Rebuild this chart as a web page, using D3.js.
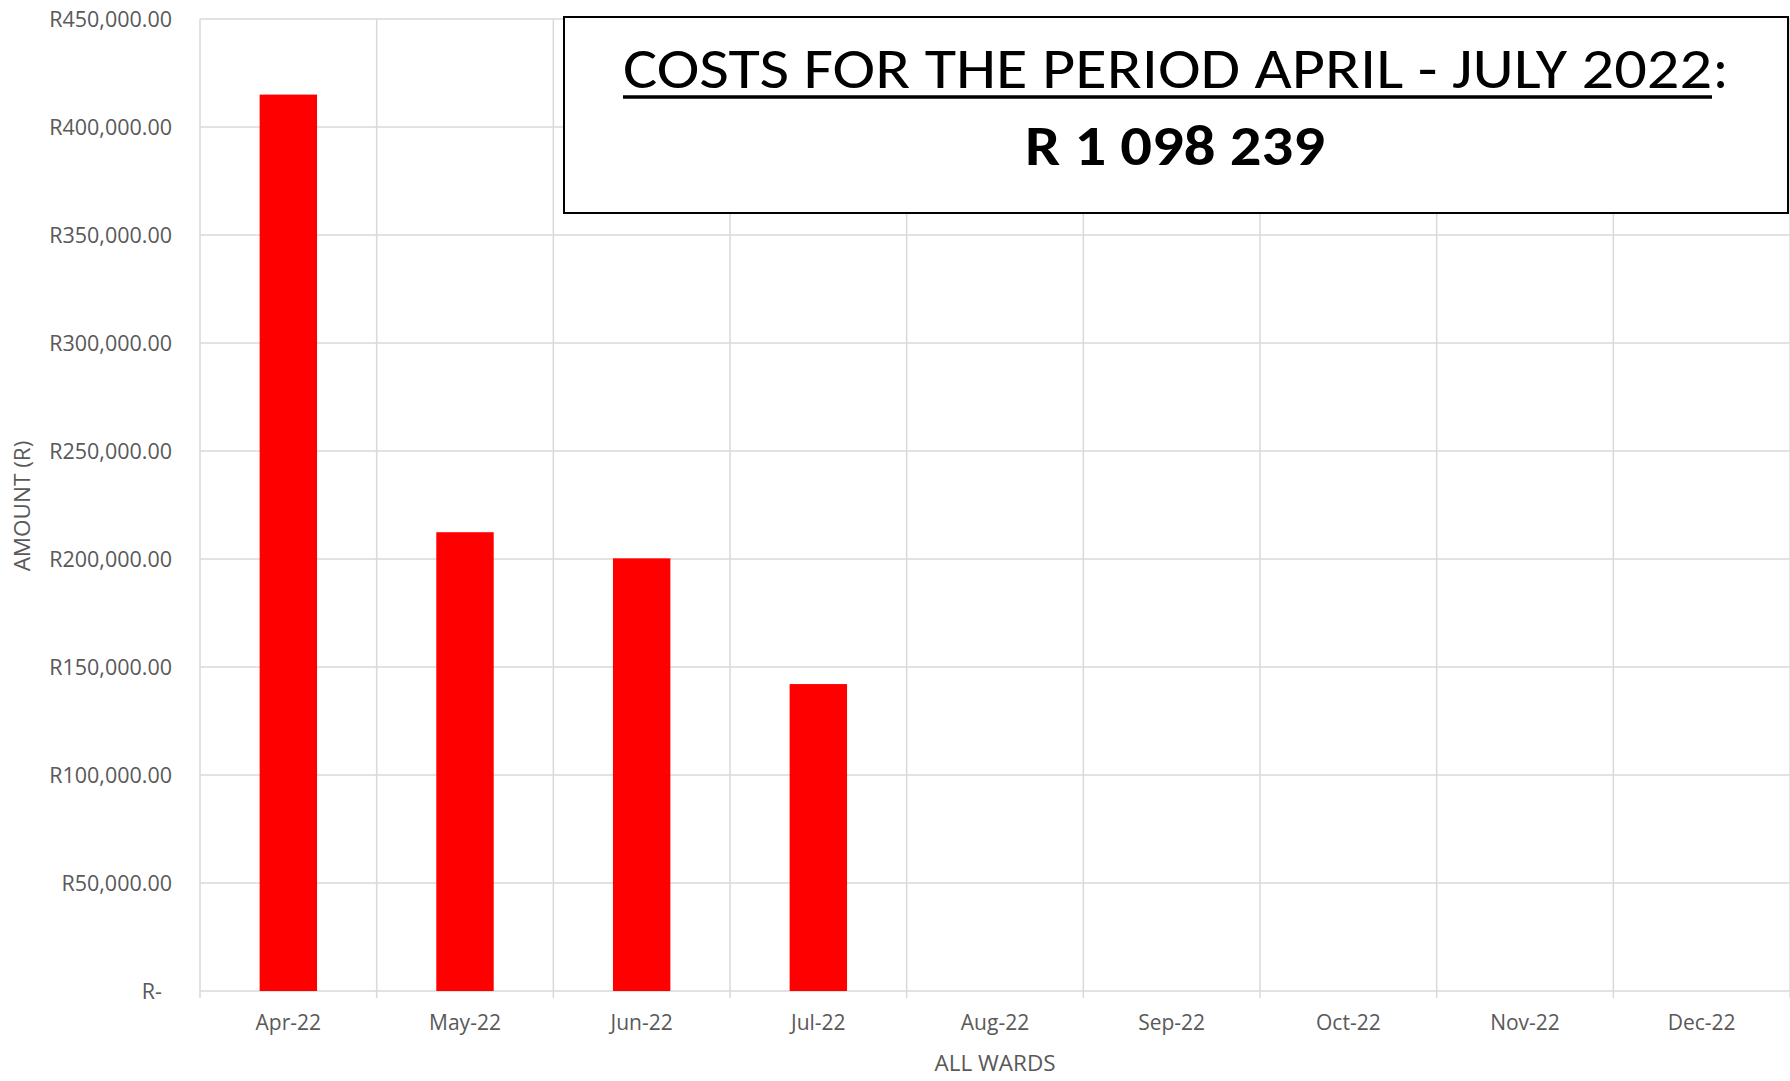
<!DOCTYPE html>
<html>
<head>
<meta charset="utf-8">
<script src="https://cdn.jsdelivr.net/npm/d3@7"></script>
<style>
  html, body { margin: 0; padding: 0; background: #fff; }
  svg { display: block; }
</style>
</head>
<body>
<svg id="chart" width="1790" height="1081"></svg>
<script>
const months = ["Apr-22","May-22","Jun-22","Jul-22","Aug-22","Sep-22","Oct-22","Nov-22","Dec-22"];
const costs = [415000, 212400, 200300, 142100, null, null, null, null, null];
const yTicks = [0, 50000, 100000, 150000, 200000, 250000, 300000, 350000, 400000, 450000];
const titleLine1 = "COSTS FOR THE PERIOD APRIL - JULY 2022";
const titleLine2 = "R 1 098 239";
const xTitle = "ALL WARDS";
const yTitle = "AMOUNT (R)";

const FONT = "'Open Sans', sans-serif";
const TFONT = "Carlito, Calibri, Lato, sans-serif";
const svg = d3.select("#chart");
const m = {left: 200, right: 1790, top: 19, bottom: 991};

const x = d3.scaleBand().domain(months).range([m.left, m.right]).padding(0);
const y = d3.scaleLinear().domain([0, 450000]).range([m.bottom, m.top]);

const grid = "#d9d9d9";
svg.append("g").selectAll("line").data(yTicks).join("line")
  .attr("x1", m.left).attr("x2", m.right)
  .attr("y1", d => y(d)).attr("y2", d => y(d))
  .attr("stroke", grid).attr("stroke-width", 1.5);
const bounds = months.map(d => x(d)).concat([m.right]);
svg.append("g").selectAll("line").data(bounds).join("line")
  .attr("x1", d => d).attr("x2", d => d)
  .attr("y1", m.top).attr("y2", m.bottom + 7)
  .attr("stroke", grid).attr("stroke-width", 1.5);

const bw = x.bandwidth() * 0.325;
svg.append("g").selectAll("rect").data(months.map((m_, i) => ({m: m_, v: costs[i]})).filter(d => d.v != null))
  .join("rect")
  .attr("x", d => x(d.m) + (x.bandwidth() - bw) / 2)
  .attr("width", bw)
  .attr("y", d => y(d.v))
  .attr("height", d => y(0) - y(d.v))
  .attr("fill", "#ff0000");

const fmt = d => d === 0 ? "R-" : "R" + d3.format(",.2f")(d);
svg.append("g").selectAll("text").data(yTicks).join("text")
  .attr("x", d => d === 0 ? 162 : 172)
  .attr("y", d => y(d))
  .attr("dy", "0.35em")
  .attr("text-anchor", "end")
  .attr("font-family", FONT).attr("font-size", 21.5).attr("fill", "#595959")
  .text(fmt);

svg.append("g").selectAll("text").data(months).join("text")
  .attr("x", d => x(d) + x.bandwidth() / 2)
  .attr("y", 1023).attr("dy", "0.35em")
  .attr("text-anchor", "middle")
  .attr("font-family", FONT).attr("font-size", 21).attr("fill", "#595959")
  .text(d => d);

svg.append("text").attr("x", (m.left + m.right) / 2).attr("y", 1063).attr("dy", "0.35em")
  .attr("text-anchor", "middle").attr("font-family", FONT).attr("font-size", 22.5).attr("fill", "#595959")
  .text(xTitle);
svg.append("text").attr("transform", "translate(22,506) rotate(-90)").attr("dy", "0.35em")
  .attr("text-anchor", "middle").attr("font-family", FONT).attr("font-size", 22.5).attr("fill", "#595959")
  .text(yTitle);

svg.append("rect").attr("x", 564).attr("y", 17).attr("width", 1224).attr("height", 196)
  .attr("fill", "#fff").attr("stroke", "#000").attr("stroke-width", 2);
svg.append("text").attr("x", 623).attr("y", 88)
  .attr("font-family", TFONT).attr("font-size", 57).attr("fill", "#000")
  .attr("textLength", 1089).attr("lengthAdjust", "spacingAndGlyphs").text(titleLine1);
svg.append("text").attr("x", 1713).attr("y", 88)
  .attr("font-family", TFONT).attr("font-size", 57).attr("fill", "#000").text(":");
svg.append("line").attr("x1", 623).attr("x2", 1712).attr("y1", 97).attr("y2", 97)
  .attr("stroke", "#000").attr("stroke-width", 3.5);
svg.append("text").attr("x", 1025).attr("y", 165)
  .attr("font-family", TFONT).attr("font-size", 56).attr("font-weight", "bold").attr("fill", "#000")
  .attr("textLength", 300).attr("lengthAdjust", "spacingAndGlyphs")
  .text(titleLine2);
</script>
</body>
</html>
